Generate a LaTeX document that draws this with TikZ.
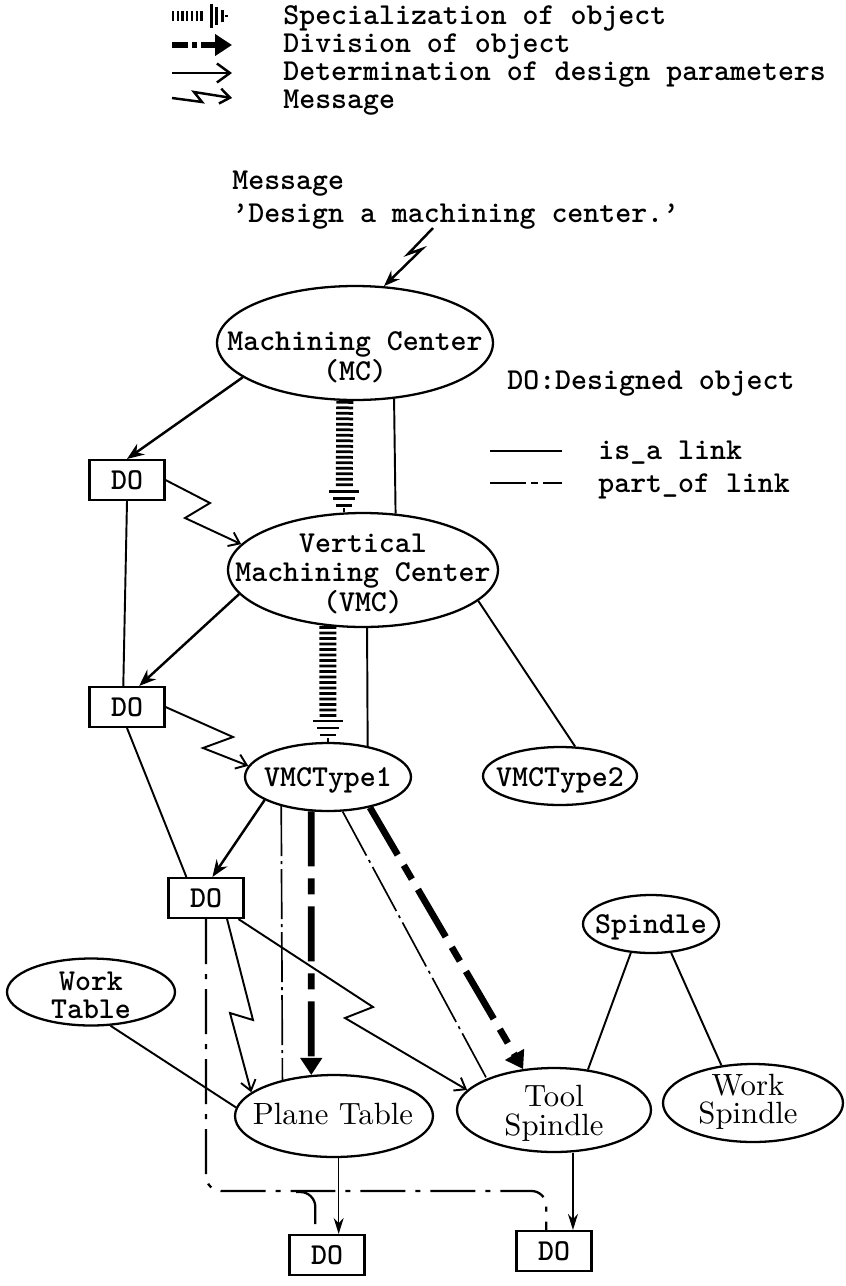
\documentclass[tikz,border=0pt]{standalone}
\usepackage{fontspec}
\usetikzlibrary{arrows.meta,shapes.geometric,calc}
\newfontfamily\twfam{lmmonolt10-bold.otf}
\newfontfamily\sfam{lmroman10-regular.otf}
\newcommand\tw{\twfam\fontsize{17.3pt}{21pt}\selectfont}
\begin{document}
\begin{tikzpicture}[x=0.02cm,y=-0.02cm,
  tt/.style={font=\tw, inner sep=0pt},
  rmt/.style={font=\sfam\fontsize{17.5pt}{21pt}\selectfont, inner sep=0pt},
  ell/.style={draw, ellipse, line width=1.3pt, inner sep=0pt},
  dobox/.style={draw, rectangle, line width=1.2pt, minimum width=1.5cm,
    minimum height=0.8cm, inner sep=0pt, font=\tw},
  isa/.style={line width=1.1pt},
  partof/.style={line width=0.95pt, dash pattern=on 1cm off 0.1cm on 0.06cm off 0.1cm},
  partofb/.style={line width=1.3pt, dash pattern=on 0.9cm off 0.2cm on 0.1cm off 0.2cm},
  division/.style={line width=3.8pt, dash pattern=on 1.1cm off 0.24cm on 0.32cm off 0.24cm,
    -{Triangle[length=0.34cm,width=0.42cm]}},
  determ/.style={line width=1.4pt, -{Stealth[length=0.34cm,width=0.26cm]}},
  determthin/.style={line width=0.9pt, -{Stealth[length=0.32cm,width=0.2cm]}},
  message/.style={line width=1.1pt, -{Straight Barb[length=0.2cm,width=0.3cm]}},
  ladder/.style={line width=0.34cm, dash pattern=on 0.055cm off 0.055cm},
  gnd/.pic={
    \draw[line width=0.055cm] (-15,-21) -- (15,-21);
    \draw[line width=0.055cm] (-11,-14) -- (11,-14);
    \draw[line width=0.055cm] (-8,-7) -- (8,-7);
    \draw[line width=0.04cm] (0,-4) -- (0,0);
  }
]
\fill[white] (0,0) rectangle (846,1286);
\useasboundingbox (0,0) rectangle (846,1286);

% ---------- key of arrow kinds ----------
\draw[ladder, line width=0.2cm, dash pattern=on 0.045cm off 0.05cm] (172,16) -- (205,16);
\pic[rotate=90, scale=0.8] at (228,16) {gnd};
\draw[division, dash pattern=on 0.32cm off 0.08cm on 0.1cm off 0.08cm] (172,45) -- (232,45);
\draw[line width=1.4pt, -{Straight Barb[length=0.26cm,width=0.38cm]}] (172,73) -- (232,73);
\draw[message, line width=1.4pt] (172,98) -- (202,102) -- (194,92) -- (232,98);
\node[tt, anchor=base west] (k1) at (283,24) {Specialization of object};
\node[tt, anchor=base west] (k2) at (283,52) {Division of object};
\node[tt, anchor=base west] (k3) at (283,80) {Determination of design parameters};
\node[tt, anchor=base west] (k4) at (283,108) {Message};

% ---------- incoming message ----------
\node[tt, anchor=base west] (msg1) at (232,189) {Message};
\node[tt, anchor=base west] (msg2) at (232,222) {’Design a machining center.’};

% ---------- link key ----------
\node[tt, anchor=base west] (doleg) at (507,389) {DO:Designed object};
\draw[isa] (490,451) -- (562,451);
\draw[line width=1pt, dash pattern=on 0.72cm off 0.1cm on 0.14cm off 0.1cm] (490,483) -- (562,483);
\node[tt, anchor=base west] (isaT) at (598,459) {is\_a link};
\node[tt, anchor=base west] (partT) at (598,492) {part\_of link};

% ---------- objects ----------
\node[ell, minimum width=5.52cm, minimum height=2.28cm] (MC) at (355,343) {};
\node[tt, anchor=base] (MCa) at (355,350) {Machining Center};
\node[tt, anchor=base] (MCb) at (355,380) {(MC)};

\node[ell, minimum width=5.4cm, minimum height=2.28cm] (VMC) at (363,570) {};
\node[tt, anchor=base] (VMCa) at (363,552) {Vertical};
\node[tt, anchor=base] (VMCb) at (363,581) {Machining Center};
\node[tt, anchor=base] (VMCc) at (363,611) {(VMC)};

\node[ell, minimum width=3.32cm, minimum height=1.36cm] (T1) at (328,777) {};
\node[tt, anchor=base] (T1a) at (328,786) {VMCType1};

\node[ell, minimum width=3.08cm, minimum height=1.16cm] (T2) at (560,776) {};
\node[tt, anchor=base] (T2a) at (560,786) {VMCType2};

\node[ell, minimum width=2.72cm, minimum height=1.16cm] (SP) at (651,924) {};
\node[tt, anchor=base] (SPa) at (651,933) {Spindle};

\node[ell, minimum width=3.36cm, minimum height=1.34cm] (WT) at (91,992) {};
\node[tt, anchor=base] (WTa) at (91,990) {Work};
\node[tt, anchor=base] (WTb) at (91,1018) {Table};

\node[ell, minimum width=3.96cm, minimum height=1.64cm] (PT) at (334,1116) {};
\node[rmt, anchor=base] (PTa) at (333,1124) {Plane Table};

\node[ell, minimum width=3.88cm, minimum height=1.68cm] (TS) at (554,1110) {};
\node[rmt, anchor=base] (TSa) at (554,1106) {Tool};
\node[rmt, anchor=base] (TSb) at (554,1135) {Spindle};

\node[ell, minimum width=3.6cm, minimum height=1.56cm] (WS) at (753,1103) {};
\node[rmt, anchor=base] (WSa) at (748,1095) {Work};
\node[rmt, anchor=base] (WSb) at (748,1123) {Spindle};

\node[dobox] (DO1) at (127,480) {DO};
\node[dobox] (DO2) at (127,707) {DO};
\node[dobox] (DO3) at (206,898) {DO};
\node[dobox] (DO4) at (327,1255) {DO};
\node[dobox] (DO5) at (554,1251) {DO};

% ---------- connectors ----------
\coordinate (lt0) at (433,228);
\draw[line width=1.4pt, -{Stealth[length=0.32cm,width=0.24cm]}]
  (lt0) -- (408,254) -- (422,249) -- (MC.63);

\draw[determ] (MC.197) -- (DO1.north);
\draw[message] (DO1.east) -- (210,503) -- (185,518) -- (VMC.168);
\draw[isa] (MC.-55) -- (VMC.60);
\draw[ladder] (MC.260) -- ($(VMC.108)+(0,-24)$);
\pic at (VMC.108) {gnd};

\draw[isa] (DO1.south) -- (DO2.100);
\draw[determ] (VMC.191) -- (DO2.60);
\draw[message] (DO2.east) -- (233,737) -- (203,748) -- (T1.172);
\draw[isa] (VMC.-86) -- (T1.38);
\draw[ladder] (VMC.238) -- ($(T1.north)+(0,-24)$);
\pic at (T1.north) {gnd};
\draw[isa] (VMC.-15) -- (T2.63);

\draw[isa] (DO2.south) -- (DO3.133);
\draw[determ] (T1.200) -- (DO3.73);

\draw[partof] (T1.212) -- (PT.145);
\draw[division] (T1.244) -- (PT.119);
\draw[partof] (T1.-67) -- (TS.155);
\draw[division] (T1.-36) -- (TS.127);

\draw[message] (DO3.-45) -- (253,1020) -- (230,1013) -- (PT.164);
\draw[message] (DO3.-33) -- (373,1007) -- (345,1018) -- (TS.167);

\draw[isa] (WT.-60) -- (PT.175);
\draw[isa] (SP.235) -- (TS.50);
\draw[isa] (SP.-55) -- (WS.130);

\draw[determthin] (PT.south -| DO4.61) -- (DO4.61);
\draw[determthin] (TS.south -| DO5.48) -- (DO5.48);

\draw[partofb, rounded corners=0.3cm] (DO3.south) |- ($(DO5.110)+(0,-39)$) -- (DO5.110);
\coordinate (br) at (296,1192);
\draw[partofb, rounded corners=0.3cm] (br) -| (DO4.119);
\end{tikzpicture}
\end{document}
